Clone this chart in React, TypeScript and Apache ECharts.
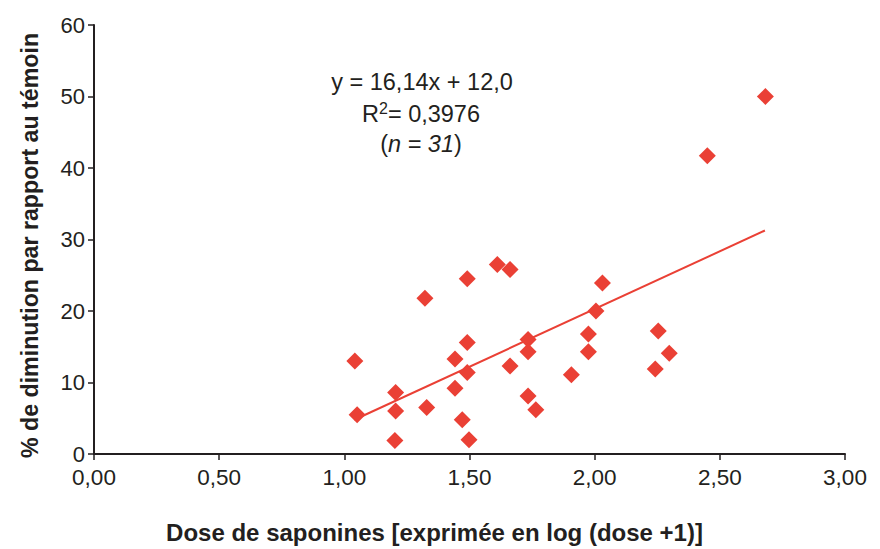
import React, { useEffect, useRef } from "react";
import * as echarts from "echarts";

const doseLog: number[] = [
  1.042, 1.051, 1.202, 1.205, 1.205, 1.322, 1.329, 1.442, 1.442, 1.471, 1.491,
  1.491, 1.491, 1.498, 1.611, 1.662, 1.662, 1.734, 1.734, 1.734, 1.765, 1.907,
  1.975, 1.975, 2.005, 2.031, 2.242, 2.254, 2.298, 2.45, 2.682,
];
const diminution: number[] = [
  13.0, 5.5, 1.9, 6.0, 8.6, 21.8, 6.5, 13.3, 9.2, 4.8, 24.5, 15.6, 11.4, 2.0,
  26.5, 25.8, 12.3, 16.0, 14.3, 8.1, 6.2, 11.1, 16.8, 14.3, 20.0, 23.9, 11.9,
  17.2, 14.1, 41.7, 50.0,
];
const trendSlope = 16.14;
const trendIntercept = -12.0;
const trendRange: number[] = [1.04, 2.68];

const xTicks: number[] = [0, 0.5, 1, 1.5, 2, 2.5, 3];
const yTicks: number[] = [0, 10, 20, 30, 40, 50, 60];

const RED = "#ea4035";
const AXIS = "#231f20";
const FONT = "Liberation Sans";

export default function App() {
  const ref = useRef<HTMLDivElement>(null);
  useEffect(() => {
    if (!ref.current) return;
    const chart = echarts.init(ref.current, undefined, { renderer: "svg" });
    const points = doseLog.map((x, i) => [x, diminution[i]]);
    const trend = trendRange.map((x) => [x, trendSlope * x + trendIntercept]);
    chart.setOption({
      animation: false,
      backgroundColor: "#ffffff",
      grid: { left: 94, right: 35, top: 25, bottom: 90 },
      xAxis: {
        type: "value",
        min: xTicks[0],
        max: xTicks[xTicks.length - 1],
        interval: 0.5,
        splitLine: { show: false },
        axisLine: { lineStyle: { color: AXIS, width: 2 } },
        axisTick: { show: true, length: 6, lineStyle: { color: AXIS, width: 1.5 } },
        axisLabel: {
          color: "#231f20",
          fontFamily: FONT,
          fontSize: 22.5,
          margin: 12,
          formatter: (v: number) => v.toFixed(2).replace(".", ","),
        },
        name: "Dose de saponines [exprimée en log (dose +1)]",
        nameLocation: "middle",
        nameGap: 66,
        nameTextStyle: {
          color: "#231f20",
          fontFamily: FONT,
          fontSize: 24,
          fontWeight: "bold",
          padding: [0, 70, 0, 0],
        },
      },
      yAxis: {
        type: "value",
        min: yTicks[0],
        max: yTicks[yTicks.length - 1],
        interval: 10,
        splitLine: { show: false },
        axisLine: { show: true, lineStyle: { color: AXIS, width: 2 } },
        axisTick: { show: true, length: 6, lineStyle: { color: AXIS, width: 1.5 } },
        axisLabel: {
          color: "#231f20",
          fontFamily: FONT,
          fontSize: 22,
          margin: 9,
        },
        name: "% de diminution par rapport au témoin",
        nameLocation: "middle",
        nameGap: 53,
        nameRotate: 90,
        nameTextStyle: {
          color: "#231f20",
          fontFamily: FONT,
          fontSize: 23.2,
          fontWeight: "bold",
          padding: [0, 12, 0, 0],
        },
      },
      graphic: [
        {
          type: "text",
          x: 422,
          y: 82,
          style: {
            text: "y = 16,14x + 12,0",
            fontFamily: FONT,
            fontSize: 23.5,
            fill: "#231f20",
            align: "center",
            verticalAlign: "middle",
          },
        },
        {
          type: "text",
          x: 421,
          y: 113,
          style: {
            text: "{n|R}{sup|2}{n|= 0,3976}",
            fontFamily: FONT,
            fontSize: 23.5,
            fill: "#231f20",
            align: "center",
            verticalAlign: "middle",
            rich: {
              n: { fontFamily: FONT, fontSize: 23.5, fill: "#231f20", verticalAlign: "bottom" },
              sup: { fontFamily: FONT, fontSize: 16, fill: "#231f20", verticalAlign: "top", padding: [0, 0, 9, 0] },
            },
          },
        },
        {
          type: "text",
          x: 421,
          y: 144,
          style: {
            text: "{n|(}{i|n = 31}{n|)}",
            fontFamily: FONT,
            fontSize: 23.5,
            fill: "#231f20",
            align: "center",
            verticalAlign: "middle",
            rich: {
              n: { fontFamily: FONT, fontSize: 23.5, fill: "#231f20" },
              i: { fontFamily: FONT, fontSize: 23.5, fill: "#231f20", fontStyle: "italic" },
            },
          },
        },
      ],
      series: [
        {
          type: "line",
          data: trend,
          symbol: "none",
          lineStyle: { color: RED, width: 2 },
          z: 1,
        },
        {
          type: "scatter",
          data: points,
          symbol: "diamond",
          symbolSize: 17,
          itemStyle: { color: RED, opacity: 1 },
          z: 2,
        },
      ],
    });
    return () => chart.dispose();
  }, []);
  return (
    <div
      ref={ref}
      style={{ position: "fixed", left: 0, top: 0, width: 880, height: 549 }}
    />
  );
}
